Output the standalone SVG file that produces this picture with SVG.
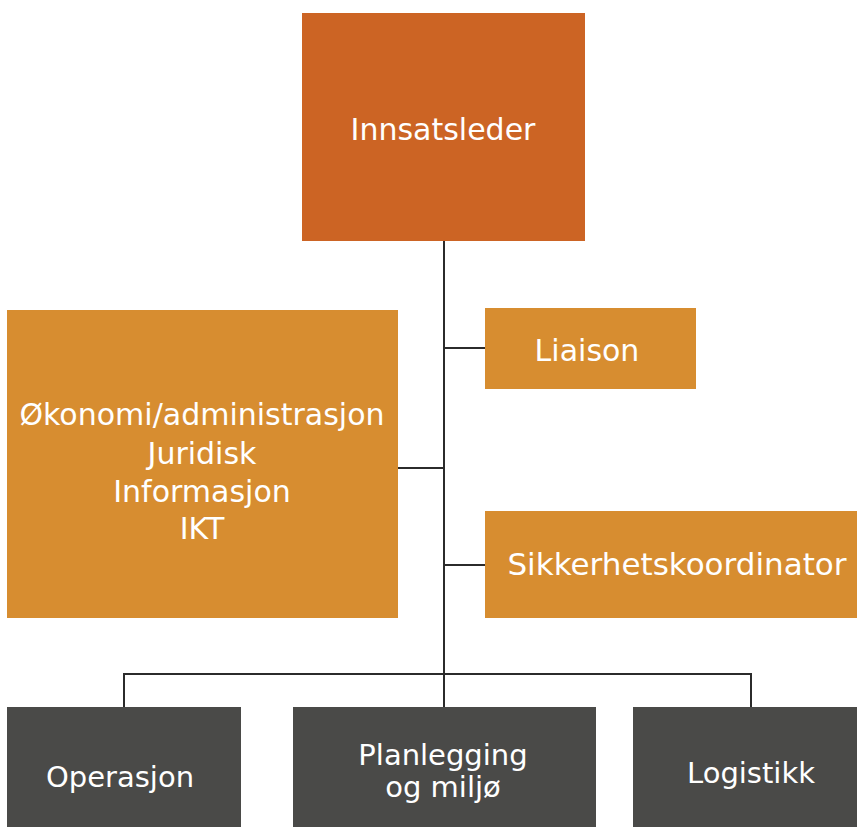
<svg xmlns="http://www.w3.org/2000/svg" width="857" height="827" viewBox="0 0 857 827">
<style>
.lead{fill:#CC6424}
.staff{fill:#D78D30}
.sec{fill:#4A4A48}
text{font-family:"DejaVu Sans","Liberation Sans",sans-serif;fill:#FFFFFF;text-anchor:middle;font-size:30px}
.bot{font-size:29px}
.conn{stroke:#2B2B2B;stroke-width:2;fill:none}
</style>
<rect width="857" height="827" fill="#FFFFFF"/>
<g id="connectors">
<line class="conn" x1="444" y1="241" x2="444" y2="674"/>
<line class="conn" x1="444" y1="348" x2="485" y2="348"/>
<line class="conn" x1="398" y1="468" x2="444" y2="468"/>
<line class="conn" x1="444" y1="565" x2="485" y2="565"/>
<polyline class="conn" points="124,707 124,674 751,674 751,707"/>
<line class="conn" x1="444" y1="674" x2="444" y2="707"/>
</g>
<g id="innsatsleder">
<rect class="lead" x="302" y="13" width="283" height="228"/>
<text x="443" y="140">Innsatsleder</text>
</g>
<g id="liaison">
<rect class="staff" x="485" y="308" width="211" height="81"/>
<text x="587" y="361">Liaison</text>
</g>
<g id="stab">
<rect class="staff" x="7" y="310" width="391" height="308"/>
<text x="202" y="425">Økonomi/administrasjon</text>
<text x="202" y="464">Juridisk</text>
<text x="202" y="502">Informasjon</text>
<text x="202" y="539">IKT</text>
</g>
<g id="sikkerhet">
<rect class="staff" x="485" y="511" width="372" height="107"/>
<text x="677" y="575" style="font-size:31px">Sikkerhetskoordinator</text>
</g>
<g id="operasjon">
<rect class="sec" x="7" y="707" width="234" height="120"/>
<text class="bot" x="120" y="787">Operasjon</text>
</g>
<g id="planlegging">
<rect class="sec" x="293" y="707" width="303" height="120"/>
<text class="bot" x="443" y="765">Planlegging</text>
<text class="bot" x="443" y="797">og miljø</text>
</g>
<g id="logistikk">
<rect class="sec" x="633" y="707" width="224" height="120"/>
<text class="bot" x="751" y="783">Logistikk</text>
</g>
</svg>
